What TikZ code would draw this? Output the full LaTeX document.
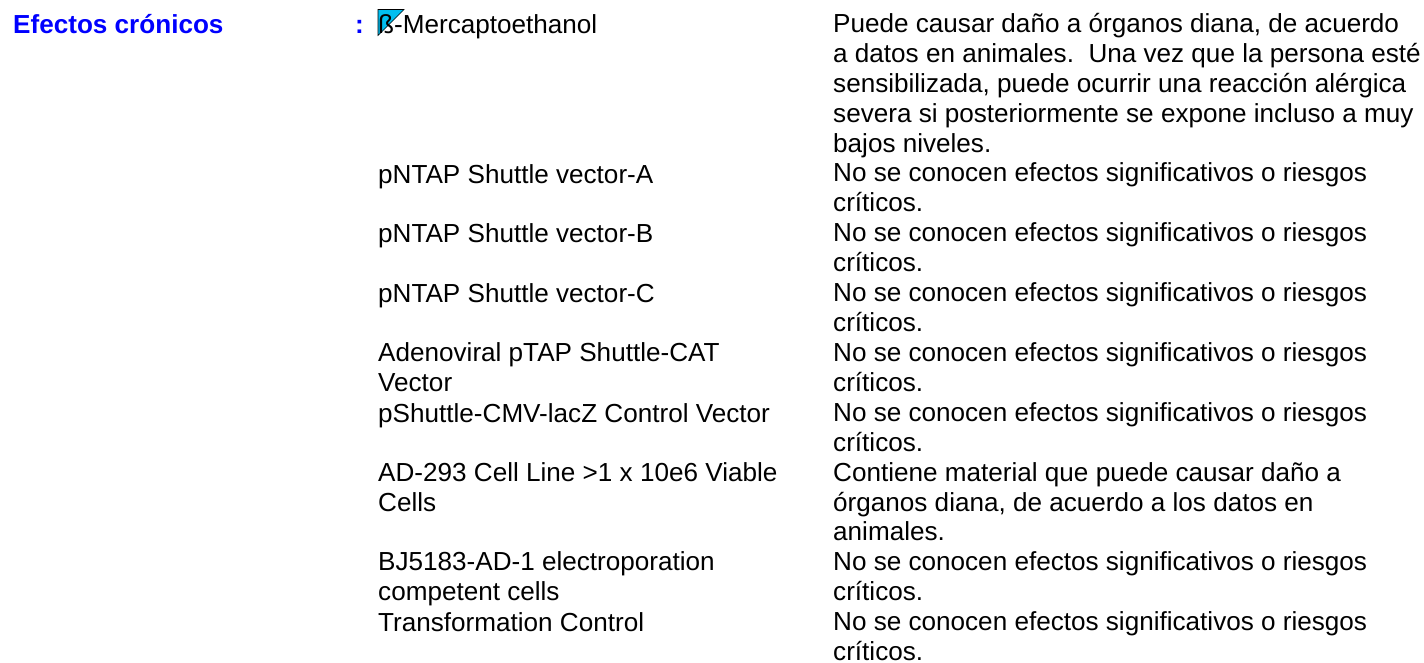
\documentclass[tikz,border=0pt]{standalone}
\usepackage{fontspec}
\setmainfont{Liberation Sans}
\usepackage{xcolor}
\usepackage{tikz}
\usetikzlibrary{positioning}
\definecolor{headblue}{RGB}{0,0,255}
\definecolor{notecyan}{RGB}{0,190,240}
\tikzset{
    txt/.style={inner sep=0pt, anchor=north west, align=left, execute at begin node={\rule{0pt}{20pt}}, font=\fontsize{26.1pt}{29.92pt}\selectfont},
    head/.style={txt, text=headblue, font=\fontsize{26.1pt}{29.92pt}\selectfont\bfseries},
}
\begin{document}
\begin{tikzpicture}[x=1pt,y=-1pt]
        \useasboundingbox (0,0) rectangle (1424,662);

        \node[head] at (13,13.2) (title) {Efectos crónicos};
        \node[head] at (355,13.2) (colon) {:};

        \filldraw[fill=notecyan, draw=black, line width=0.6pt] (378,9.5) -- (404,9.5) -- (378,35.5) -- cycle;

        \node[txt] at (378,13.2) (mercapto) {ß-Mercaptoethanol};
        \node[txt] at (378,162.8) (vectora) {pNTAP Shuttle vector-A};
        \node[txt] at (378,222.6) (vectorb) {pNTAP Shuttle vector-B};
        \node[txt] at (378,282.5) (vectorc) {pNTAP Shuttle vector-C};
        \node[txt] at (378,342.3) (adeno) {Adenoviral pTAP Shuttle-CAT\\Vector};
        \node[txt] at (378,402.2) (lacz) {pShuttle-CMV-lacZ Control Vector};
        \node[txt] at (378,462) (cellline) {AD-293 Cell Line >1 x 10e6 Viable\\Cells};
        \node[txt] at (378,551.8) (bj) {BJ5183-AD-1 electroporation\\competent cells};
        \node[txt] at (378,611.6) (control) {Transformation Control};

        \node[txt] at (833,13.2) (mercaptonote) {Puede causar daño a órganos diana, de acuerdo\\a datos en animales.\ \ Una vez que la persona esté\\sensibilizada, puede ocurrir una reacción alérgica\\severa si posteriormente se expone incluso a muy\\bajos niveles.};
        \node[txt] at (833,162.8) (vectoranote) {No se conocen efectos significativos o riesgos\\críticos.};
        \node[txt] at (833,222.6) (vectorbnote) {No se conocen efectos significativos o riesgos\\críticos.};
        \node[txt] at (833,282.5) (vectorcnote) {No se conocen efectos significativos o riesgos\\críticos.};
        \node[txt] at (833,342.3) (adenonote) {No se conocen efectos significativos o riesgos\\críticos.};
        \node[txt] at (833,402.2) (lacznote) {No se conocen efectos significativos o riesgos\\críticos.};
        \node[txt] at (833,462) (celllinenote) {Contiene material que puede causar daño a\\órganos diana, de acuerdo a los datos en\\animales.};
        \node[txt] at (833,551.8) (bjnote) {No se conocen efectos significativos o riesgos\\críticos.};
        \node[txt] at (833,611.6) (controlnote) {No se conocen efectos significativos o riesgos\\críticos.};
\end{tikzpicture}
\end{document}
